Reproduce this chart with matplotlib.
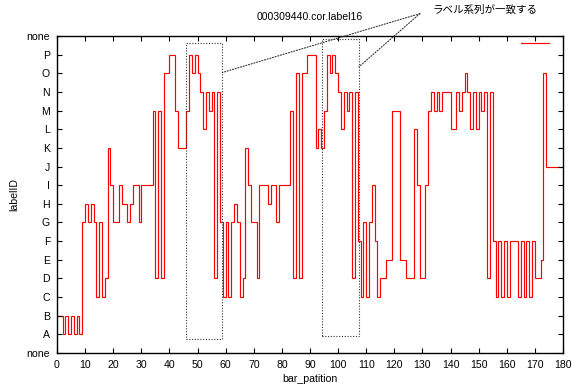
import matplotlib
matplotlib.use("Agg")
import matplotlib.pyplot as plt
import matplotlib.patches as patches
import numpy as np

plt.rcParams['font.family'] = ['Liberation Sans', 'Noto Sans CJK JP', 'DejaVu Sans']
plt.rcParams['font.size'] = 7.6

# tick labels of the categorical y axis
level_names = ['none', 'A', 'B', 'C', 'D', 'E', 'F', 'G', 'H', 'I',
               'J', 'K', 'L', 'M', 'N', 'O', 'P', 'none']

# label of each bar partition (x = 0..179)
labels_000 = ['B', 'B', 'A', 'B', 'A', 'B', 'A', 'B', 'A', 'G',
              'H', 'G', 'H', 'G', 'C', 'G', 'C', 'D', 'K', 'I',
              'G', 'G', 'I', 'H', 'H', 'G', 'H', 'I', 'I', 'G',
              'I', 'I', 'I', 'I', 'M', 'D', 'M', 'D', 'O', 'O',
              'P', 'P', 'M', 'K', 'K', 'K', 'M', 'P', 'O', 'P']
labels_050 = ['O', 'N', 'L', 'N', 'M', 'N', 'D', 'N', 'G', 'C',
              'G', 'C', 'G', 'H', 'G', 'C', 'D', 'K', 'I', 'G',
              'G', 'D', 'I', 'I', 'I', 'H', 'I', 'I', 'G', 'I',
              'I', 'I', 'I', 'M', 'D', 'O', 'D', 'O', 'O', 'P',
              'P', 'P', 'K', 'L', 'K', 'M', 'P', 'O', 'P', 'O']
labels_100 = ['N', 'L', 'N', 'M', 'N', 'D', 'N', 'F', 'C', 'G',
              'C', 'G', 'I', 'F', 'C', 'D', 'D', 'E', 'E', 'M',
              'M', 'M', 'E', 'E', 'D', 'D', 'D', 'L', 'I', 'D',
              'D', 'I', 'M', 'N', 'M', 'N', 'M', 'N', 'N', 'N',
              'L', 'L', 'N', 'M', 'N', 'O', 'N', 'L', 'N', 'L']
labels_150 = ['N', 'M', 'N', 'D', 'N', 'F', 'C', 'F', 'C', 'F',
              'C', 'F', 'F', 'F', 'C', 'F', 'C', 'F', 'C', 'F',
              'D', 'D', 'E', 'O', 'J', 'J', 'J', 'J', 'J', 'J']

# highlighted matching label sequences: (x0, x1, y0, y1)
boxes = [(45.8, 58.8, 0.73, 16.64), (94.4, 107.4, 0.91, 16.82)]
# where the note's dotted lines end (right edge of each box)
arrow_ends = [(58.8, 15.04), (107.4, 15.35)]
arrow_start = (129.1, 18.2)

title = '000309440.cor.label16'
note = 'ラベル系列が一致する'


def main():
    seq = labels_000 + labels_050 + labels_100 + labels_150
    values = np.array([level_names.index(s) for s in seq])
    edges = np.arange(len(values) + 1)

    fig = plt.figure(figsize=(5.76, 3.87), dpi=100)
    ax = fig.add_axes([57 / 576, 1 - 353 / 387, 506 / 576, 317 / 387])

    line = ax.stairs(values, edges, baseline=None, color='#ff0000', lw=0.85)

    dots = (0, (1, 1.5))
    for x0, x1, y0, y1 in boxes:
        ax.add_patch(patches.Rectangle((x0, y0), x1 - x0, y1 - y0, fill=False,
                                       ls=dots, lw=0.8, ec='#333333'))

    # note pointing at both boxes
    ax.text(133.4, 18.4, note, ha='left', va='center',
            family=['Noto Sans CJK JP', 'DejaVu Sans'], fontsize=7.6)
    for end in arrow_ends:
        ax.annotate('', xy=end, xytext=arrow_start, annotation_clip=False,
                    arrowprops=dict(arrowstyle='-', ls=dots, lw=0.8,
                                    color='#333333', shrinkA=0, shrinkB=0))

    fig.text(310 / 576, 1 - 17 / 387, title, ha='center', va='center')

    ax.set_xlim(0, 180)
    ax.set_ylim(0, 17)
    ax.set_xticks(np.arange(0, 181, 10))
    ax.set_yticks(np.arange(len(level_names)))
    ax.set_yticklabels(level_names)
    ax.tick_params(direction='in', length=3.5, width=0.8, top=True, right=True, pad=5)
    for s in ax.spines.values():
        s.set_linewidth(1.0)

    ax.set_xlabel('bar_patition', labelpad=3)
    ax.set_ylabel('labelID', labelpad=5)

    ax.legend([line], [''], loc='upper right', frameon=False, handlelength=2.6,
              bbox_to_anchor=(1 - 7 / 506, 1 + 3 / 317),
              borderaxespad=0.3, handletextpad=0.2, borderpad=0.2)

    fig.savefig('out.png', dpi=100)


if __name__ == "__main__":
    main()
